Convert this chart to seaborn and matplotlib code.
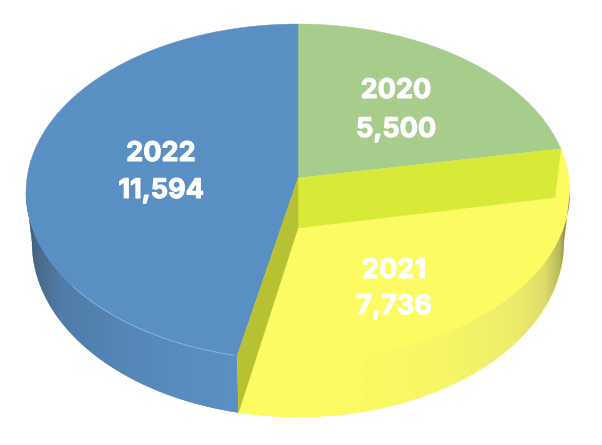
import numpy as np
import matplotlib
matplotlib.use("Agg")
import matplotlib.pyplot as plt
import matplotlib.patheffects as pe
from matplotlib.patches import Polygon
from matplotlib.colors import to_rgb
import seaborn as sns

years = ["2020", "2021", "2022"]
values = [5500, 7736, 11594]
label_x = [396, 394, 161]
year_y = [88, 268, 151]
value_y = [127, 304, 188]

sns.set_theme(style="white")
plt.rcParams["font.family"] = ["Inter", "DejaVu Sans"]
palette = sns.color_palette(["#A7CC8C", "#FCFC62", "#5A8FC3"])
GREEN, YELLOW, BLUE = palette
WALL_GREEN = "#D9E938"
WALL_BLUE = "#B6C133"

fig, ax = plt.subplots(figsize=(6.02, 4.45), dpi=100)
ax.set_position([0, 0, 1, 1])
ax.set_xlim(0, 602)
ax.set_ylim(445, 0)
ax.axis("off")

K = 0.0833
CX = 298


def project(t, cy, rx, ry):
    X, Y = np.sin(t), np.cos(t)
    w = 1 + K * Y
    return np.column_stack([CX + rx * X / w, cy - ry * Y / w])


def upper(t):
    return project(np.asarray(t, float), 178, 271, 166.8)


def lower(t):
    return project(np.asarray(t, float), 228, 265, 173.2)


def arc(a, b, n=200):
    return np.linspace(a, b, n)


def poly(points, color, z):
    p = Polygon(points, closed=True, facecolor=color, edgecolor=color, lw=0.3, zorder=z)
    ax.add_patch(p)
    return p


def gradient(clip, stops, z):
    xs = np.arange(0, 603)
    pos = [s[0] for s in stops]
    cols = np.array([to_rgb(s[1]) for s in stops])
    img = np.stack([np.interp(xs, pos, cols[:, i]) for i in range(3)], axis=1)[None, :, :]
    im = ax.imshow(img, extent=(0, 602, 445, 0), aspect="auto", zorder=z, interpolation="bilinear")
    clip.set_facecolor("none")
    clip.set_edgecolor("none")
    im.set_clip_path(clip)
    ax.set_xlim(0, 602)
    ax.set_ylim(445, 0)


fractions = np.cumsum(values) / np.sum(values)
t1 = fractions[0] * 2 * np.pi
t2 = fractions[1] * 2 * np.pi
ext_r = np.arccos(-K)
ext_l = 2 * np.pi - ext_r
apex_u = np.array([[CX, 178.0]])
apex_l = np.array([[CX, 228.0]])

# Side walls (outer)
blue_wall = np.vstack([upper(arc(t2, ext_l)), lower(arc(ext_l, t2))])
poly(blue_wall, BLUE, 1)
gradient(poly(blue_wall, BLUE, 1.1),
         [(0, "#444B55"), (27, "#474E5A"), (34, "#4A6686"), (60, "#4F7CA8"),
          (130, "#5787B8"), (235, "#5B90C5")], 1.2)

# Yellow sunken slice silhouette
yellow_shape = np.vstack([apex_l, lower([t1]), upper(arc(t1, ext_r)), lower(arc(ext_r, t2))])
poly(yellow_shape, YELLOW, 2)
yellow_wall = np.vstack([upper(arc(ext_r, t2)), lower(arc(t2, ext_r))])
gradient(poly(yellow_wall, YELLOW, 2.1),
         [(0, "#FCFC62"), (360, "#FCFC62"), (365, "#FAFA62"), (440, "#F7F766"),
          (510, "#EEEE6C"), (545, "#DEDE6A"), (560, "#B8B85E"), (570, "#6E6E60")], 2.2)

# Top faces
poly(np.vstack([apex_u, upper(arc(0, t1))]), GREEN, 3)
poly(np.vstack([apex_u, upper(arc(t2, 2 * np.pi))]), BLUE, 3)

# Inner walls
poly(np.vstack([apex_u, upper([t1]), lower([t1]), apex_l]), WALL_GREEN, 4)
poly(np.vstack([apex_u, upper([t2]), lower([t2]), apex_l]), WALL_BLUE, 4)

# Rim highlight on the blue slice
rim = upper(arc(3.36, 4.05))
ax.plot(rim[:, 0], rim[:, 1], color="#8FBCEB", lw=0.8, alpha=0.7, zorder=5)

heavy = [pe.withStroke(linewidth=0.8, foreground="white")]
for year, value, x, y0, y1 in zip(years, values, label_x, year_y, value_y):
    for s, y in ((year, y0), (f"{value:,}", y1)):
        ax.text(x, y, s, color="white", fontsize=19.5, fontweight="bold",
                ha="center", va="center_baseline", zorder=6, path_effects=heavy)

fig.savefig("out.png", dpi=100)
